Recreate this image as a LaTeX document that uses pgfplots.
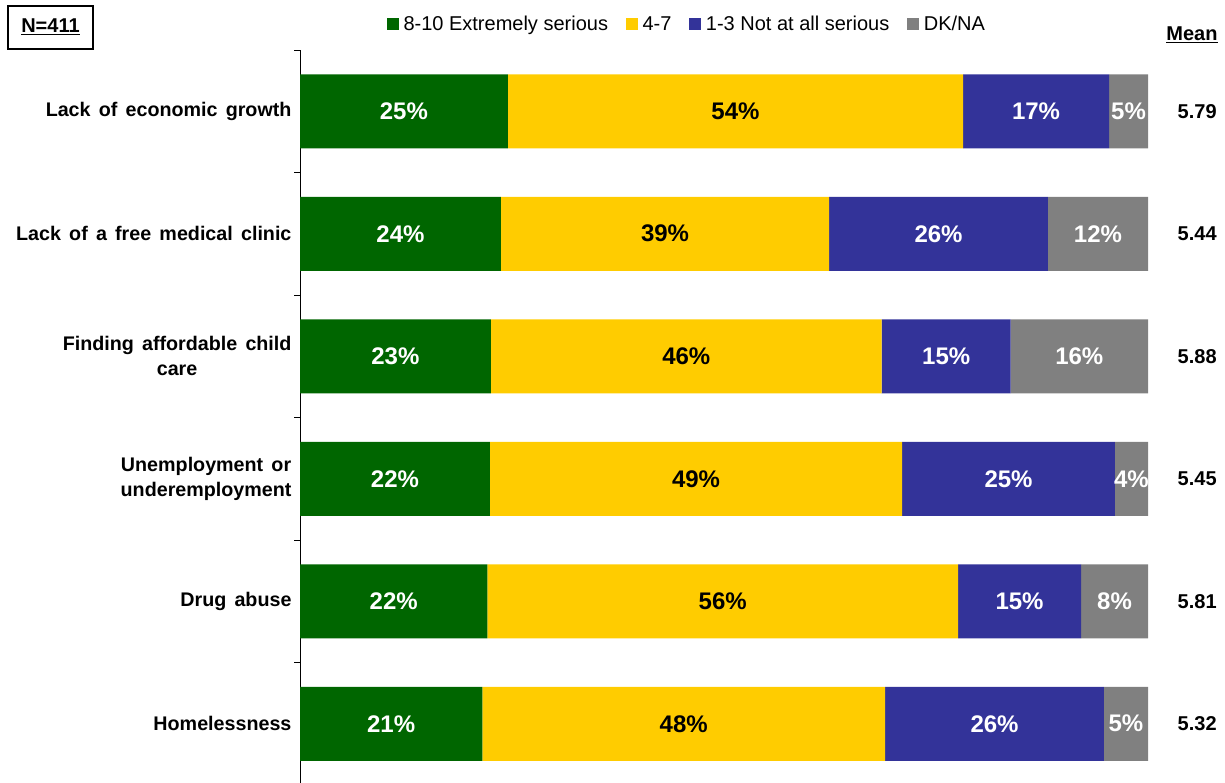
\documentclass[border=0pt]{standalone}
\usepackage{fontspec}
\setmainfont{Liberation Sans}
\usepackage{pgfplots}
\pgfplotsset{compat=1.18}
\definecolor{cgreen}{RGB}{0,102,0}
\definecolor{cyellow}{RGB}{255,204,0}
\definecolor{cblue}{RGB}{51,51,153}
\definecolor{cgray}{RGB}{128,128,128}
\newcommand\ws{\spaceskip=8.2pt\relax}
\begin{document}
\begin{tikzpicture}[x=1pt,y=1pt,
  lab/.style={font=\bfseries\fontsize{24}{28}\selectfont},
  mn/.style={font=\bfseries\fontsize{20}{24}\selectfont}]
\useasboundingbox (0,0) rectangle (1225,782);
\begin{axis}[
  at={(300pt,-3pt)}, anchor=south west,
  scale only axis, width=848pt, height=735pt,
  xbar stacked, bar width=74pt,
  xmin=0, xmax=100, ymin=-0.5, ymax=5.5, y dir=reverse,
  axis x line=none, axis y line*=left,
  axis line style={black, line width=0.8pt},
  clip=false,
  ytick={0,1,2,3,4,5},
  yticklabels={{\ws Lack of economic growth}, {\ws Lack of a free medical clinic}, {\ws Finding affordable child\\care}, {\ws Unemployment or\\underemployment}, {\ws Drug abuse}, Homelessness},
  yticklabel style={align=center, font=\bfseries\fontsize{19.7}{25}\selectfont, xshift=-5pt},
  major tick length=0pt,
  extra y ticks={-0.5,0.5,1.5,2.5,3.5,4.5,5.5},
  extra y tick labels={},
  extra y tick style={major tick length=6pt, tick align=outside, tick style={black, line width=0.8pt}},
  legend style={at={(rel axis cs:0.4558,1.0354)}, anchor=center, draw=none, fill=none,
    legend columns=-1, font=\fontsize{20}{24}\selectfont,
    nodes={inner sep=1pt},
    /tikz/every odd column/.append style={column sep=3.5pt},
    /tikz/every even column/.append style={column sep=17pt}},
  legend image code/.code={\fill[#1] (0pt,-6pt) rectangle (12pt,6pt);},
]
\addplot[fill=cgreen, draw=none] coordinates {(24.5,0) (23.7,1) (22.5,2) (22.4,3) (22.1,4) (21.5,5)};
\addplot[fill=cyellow, draw=none] coordinates {(53.7,0) (38.7,1) (46.1,2) (48.6,3) (55.5,4) (47.5,5)};
\addplot[fill=cblue, draw=none] coordinates {(17.2,0) (25.8,1) (15.2,2) (25.1,3) (14.5,4) (25.8,5)};
\addplot[fill=cgray, draw=none] coordinates {(4.6,0) (11.8,1) (16.2,2) (3.9,3) (7.9,4) (5.2,5)};
\legend{8-10 Extremely serious, 4-7, 1-3 Not at all serious, DK/NA}
\coordinate (a0) at (axis cs:12.25,0);
\coordinate (b0) at (axis cs:51.35,0);
\coordinate (c0) at (axis cs:86.8,0);
\coordinate (d0) at (axis cs:97.7,0);
\coordinate (a1) at (axis cs:11.85,1);
\coordinate (b1) at (axis cs:43.05,1);
\coordinate (c1) at (axis cs:75.3,1);
\coordinate (d1) at (axis cs:94.1,1);
\coordinate (a2) at (axis cs:11.25,2);
\coordinate (b2) at (axis cs:45.55,2);
\coordinate (c2) at (axis cs:76.2,2);
\coordinate (d2) at (axis cs:91.9,2);
\coordinate (a3) at (axis cs:11.2,3);
\coordinate (b3) at (axis cs:46.7,3);
\coordinate (c3) at (axis cs:83.55,3);
\coordinate (d3) at (axis cs:98.05,3);
\coordinate (a4) at (axis cs:11.05,4);
\coordinate (b4) at (axis cs:49.85,4);
\coordinate (c4) at (axis cs:84.85,4);
\coordinate (d4) at (axis cs:96.05,4);
\coordinate (a5) at (axis cs:10.75,5);
\coordinate (b5) at (axis cs:45.25,5);
\coordinate (c5) at (axis cs:81.9,5);
\coordinate (d5) at (axis cs:97.4,5);
\node[mn] at (axis cs:105.8,0) {5.79};
\node[mn] at (axis cs:105.8,1) {5.44};
\node[mn] at (axis cs:105.8,2) {5.88};
\node[mn] at (axis cs:105.8,3) {5.45};
\node[mn] at (axis cs:105.8,4) {5.81};
\node[mn] at (axis cs:105.8,5) {5.32};
\end{axis}
\node[lab,text=white] at (a0) {25\%};
\node[lab,text=black] at (b0) {54\%};
\node[lab,text=white] at (c0) {17\%};
\node[lab,text=white] at (d0) {5\%};
\node[lab,text=white] at (a1) {24\%};
\node[lab,text=black] at (b1) {39\%};
\node[lab,text=white] at (c1) {26\%};
\node[lab,text=white] at (d1) {12\%};
\node[lab,text=white] at (a2) {23\%};
\node[lab,text=black] at (b2) {46\%};
\node[lab,text=white] at (c2) {15\%};
\node[lab,text=white] at (d2) {16\%};
\node[lab,text=white] at (a3) {22\%};
\node[lab,text=black] at (b3) {49\%};
\node[lab,text=white] at (c3) {25\%};
\node[lab,text=white] at (d3) {4\%};
\node[lab,text=white] at (a4) {22\%};
\node[lab,text=black] at (b4) {56\%};
\node[lab,text=white] at (c4) {15\%};
\node[lab,text=white] at (d4) {8\%};
\node[lab,text=white] at (a5) {21\%};
\node[lab,text=black] at (b5) {48\%};
\node[lab,text=white] at (c5) {26\%};
\node[lab,text=white] at (d5) {5\%};
\node[font=\bfseries\fontsize{20}{24}\selectfont] at (1192,747) {\underline{Mean}};
\draw[line width=1.5pt] (8,776) rectangle (93,733);
\node[font=\bfseries\fontsize{20}{24}\selectfont] at (50.5,755) {\underline{N=411}};
\end{tikzpicture}
\end{document}
